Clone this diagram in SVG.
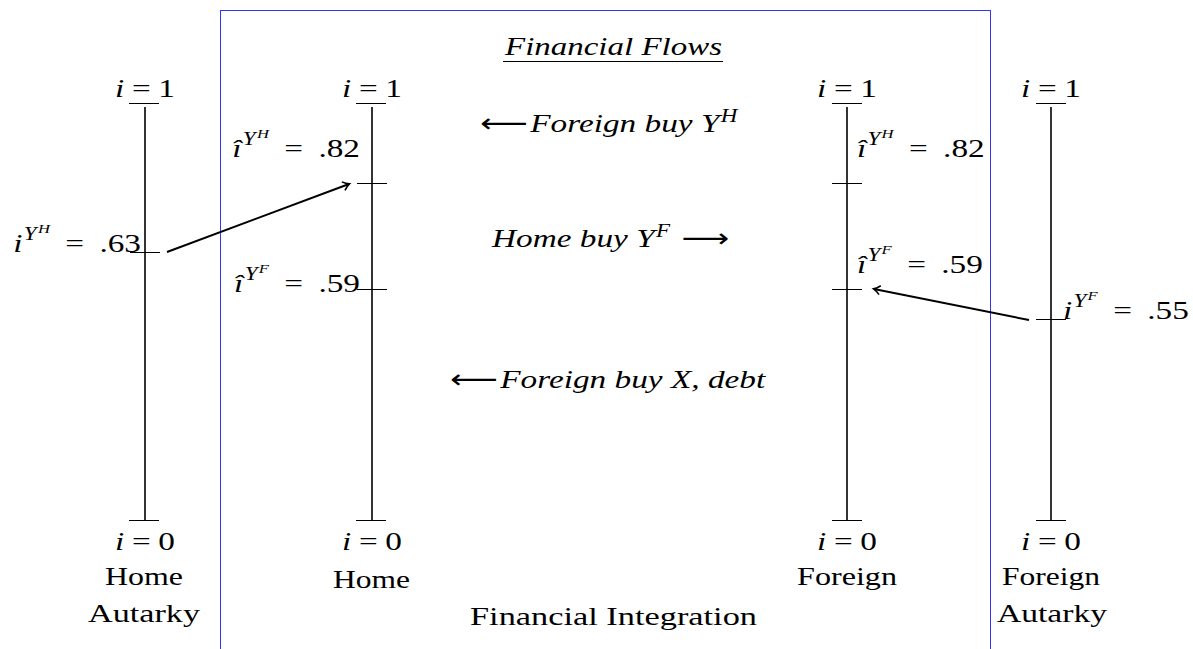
<svg xmlns="http://www.w3.org/2000/svg" width="1193" height="649" viewBox="0 0 1193 649">
<style>
text { font-family: "Liberation Serif", "DejaVu Serif", serif; font-size: 26px; fill: #000; }
.it { font-style: italic; }
.s1 { font-style: italic; font-size: 18px; }
.s2 { font-style: italic; font-size: 13px; }
.axis { stroke: #000; stroke-width: 1.6; fill: none; }
.tick { stroke: #000; stroke-width: 1; fill: none; }
.flow { stroke: #000; stroke-width: 2; fill: none; marker-end: url(#head); }
.arr { font-family: "DejaVu Sans", sans-serif; font-style: normal; font-size: 26px; }
</style>
<defs>
<marker id="head" markerWidth="12" markerHeight="12" refX="9" refY="6" orient="auto" markerUnits="userSpaceOnUse">
<path d="M3,1.5 Q6,4.5 9.5,6 Q6,7.5 3,10.5" fill="none" stroke="#000" stroke-width="1.6"/>
</marker>
</defs>
<rect x="220.5" y="10.5" width="770" height="660" fill="none" stroke="#3333ff" stroke-width="1"/>

<g id="home-autarky">
<line class="axis" x1="145" y1="107" x2="145" y2="520"/>
<line class="tick" x1="129" y1="103.5" x2="159" y2="103.5"/>
<line class="tick" x1="129" y1="520.5" x2="159" y2="520.5"/>
<line class="tick" x1="130" y1="252.5" x2="160" y2="252.5"/>
<g transform="translate(145,97) scale(1.28,1)"><text text-anchor="middle"><tspan class="it">i</tspan><tspan dx="6">=</tspan><tspan dx="6">1</tspan></text></g>
<g transform="translate(141,252) scale(1.28,1)"><text text-anchor="end"><tspan class="it">i</tspan><tspan class="s1" dx="1" dy="-12">Y</tspan><tspan class="s2" dx="1" dy="-7">H</tspan><tspan dy="19" dx="12">=</tspan><tspan dx="12">.63</tspan></text></g>
<g transform="translate(145,550) scale(1.28,1)"><text text-anchor="middle"><tspan class="it">i</tspan><tspan dx="6">=</tspan><tspan dx="6">0</tspan></text></g>
<text x="105" y="585" textLength="78" lengthAdjust="spacingAndGlyphs">Home</text>
<text x="88" y="622" textLength="112" lengthAdjust="spacingAndGlyphs">Autarky</text>
</g>

<g id="home">
<line class="axis" x1="372" y1="107" x2="372" y2="520"/>
<line class="tick" x1="356" y1="103.5" x2="386" y2="103.5"/>
<line class="tick" x1="356" y1="520.5" x2="386" y2="520.5"/>
<line class="tick" x1="357" y1="183.5" x2="387" y2="183.5"/>
<line class="tick" x1="357" y1="289.5" x2="387" y2="289.5"/>
<g transform="translate(372,97) scale(1.28,1)"><text text-anchor="middle"><tspan class="it">i</tspan><tspan dx="6">=</tspan><tspan dx="6">1</tspan></text></g>
<g transform="translate(360,157) scale(1.28,1)"><text text-anchor="end"><tspan class="it">î</tspan><tspan class="s1" dx="1" dy="-12">Y</tspan><tspan class="s2" dx="1" dy="-7">H</tspan><tspan dy="19" dx="12">=</tspan><tspan dx="12">.82</tspan></text></g>
<g transform="translate(360,292) scale(1.28,1)"><text text-anchor="end"><tspan class="it">î</tspan><tspan class="s1" dx="1" dy="-12">Y</tspan><tspan class="s2" dx="1" dy="-7">F</tspan><tspan dy="19" dx="12">=</tspan><tspan dx="12">.59</tspan></text></g>
<g transform="translate(372,550) scale(1.28,1)"><text text-anchor="middle"><tspan class="it">i</tspan><tspan dx="6">=</tspan><tspan dx="6">0</tspan></text></g>
<text x="333" y="588" textLength="77" lengthAdjust="spacingAndGlyphs">Home</text>
</g>

<g id="foreign">
<line class="axis" x1="847" y1="107" x2="847" y2="520"/>
<line class="tick" x1="832" y1="103.5" x2="862" y2="103.5"/>
<line class="tick" x1="832" y1="520.5" x2="862" y2="520.5"/>
<line class="tick" x1="832" y1="183.5" x2="862" y2="183.5"/>
<line class="tick" x1="832" y1="289.5" x2="862" y2="289.5"/>
<g transform="translate(847,97) scale(1.28,1)"><text text-anchor="middle"><tspan class="it">i</tspan><tspan dx="6">=</tspan><tspan dx="6">1</tspan></text></g>
<g transform="translate(857,157) scale(1.28,1)"><text><tspan class="it">î</tspan><tspan class="s1" dx="1" dy="-12">Y</tspan><tspan class="s2" dx="1" dy="-7">H</tspan><tspan dy="19" dx="12">=</tspan><tspan dx="12">.82</tspan></text></g>
<g transform="translate(857,273) scale(1.28,1)"><text><tspan class="it">î</tspan><tspan class="s1" dx="1" dy="-12">Y</tspan><tspan class="s2" dx="1" dy="-7">F</tspan><tspan dy="19" dx="12">=</tspan><tspan dx="12">.59</tspan></text></g>
<g transform="translate(847,550) scale(1.28,1)"><text text-anchor="middle"><tspan class="it">i</tspan><tspan dx="6">=</tspan><tspan dx="6">0</tspan></text></g>
<text x="797" y="585" textLength="100" lengthAdjust="spacingAndGlyphs">Foreign</text>
</g>

<g id="foreign-autarky">
<line class="axis" x1="1051" y1="107" x2="1051" y2="520"/>
<line class="tick" x1="1036" y1="103.5" x2="1066" y2="103.5"/>
<line class="tick" x1="1036" y1="520.5" x2="1066" y2="520.5"/>
<line class="tick" x1="1036" y1="319.5" x2="1066" y2="319.5"/>
<g transform="translate(1051,97) scale(1.28,1)"><text text-anchor="middle"><tspan class="it">i</tspan><tspan dx="6">=</tspan><tspan dx="6">1</tspan></text></g>
<g transform="translate(1063,319) scale(1.28,1)"><text><tspan class="it">i</tspan><tspan class="s1" dx="1" dy="-12">Y</tspan><tspan class="s2" dx="1" dy="-7">F</tspan><tspan dy="19" dx="12">=</tspan><tspan dx="12">.55</tspan></text></g>
<g transform="translate(1051,550) scale(1.28,1)"><text text-anchor="middle"><tspan class="it">i</tspan><tspan dx="6">=</tspan><tspan dx="6">0</tspan></text></g>
<text x="1002" y="585" textLength="98" lengthAdjust="spacingAndGlyphs">Foreign</text>
<text x="997" y="622" textLength="110" lengthAdjust="spacingAndGlyphs">Autarky</text>
</g>

<g id="flows-labels">
<text x="505" y="55" class="it" textLength="217" lengthAdjust="spacingAndGlyphs">Financial Flows</text>
<line x1="503" y1="61.5" x2="723" y2="61.5" stroke="#000" stroke-width="1"/>
<g transform="translate(480,132) scale(1.28,1)"><text><tspan class="arr">⟵</tspan><tspan class="it" dx="2">Foreign buy Y</tspan><tspan class="s1" dx="1" dy="-10">H</tspan></text></g>
<g transform="translate(492,247) scale(1.28,1)"><text><tspan class="it">Home buy Y</tspan><tspan class="s1" dx="1" dy="-10">F</tspan><tspan class="arr" dx="9" dy="10">⟶</tspan></text></g>
<g transform="translate(450,388) scale(1.28,1)"><text><tspan class="arr">⟵</tspan><tspan class="it" dx="2">Foreign buy X, debt</tspan></text></g>
<text x="470" y="625" textLength="287" lengthAdjust="spacingAndGlyphs">Financial Integration</text>
</g>

<g id="connectors">
<line class="flow" x1="167" y1="252" x2="349" y2="184"/>
<line class="flow" x1="1029" y1="320" x2="874" y2="289"/>
</g>
</svg>
